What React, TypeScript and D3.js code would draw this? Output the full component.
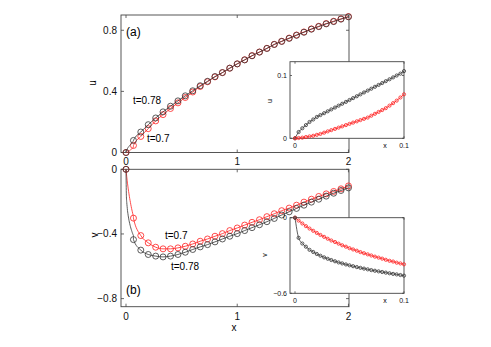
import React from 'react';
import * as d3 from 'd3';

const mainX = [0, 0.067, 0.133, 0.2, 0.267, 0.333, 0.4, 0.467, 0.533, 0.6, 0.667, 0.733, 0.8, 0.867, 0.933, 1,
  1.067, 1.133, 1.2, 1.267, 1.333, 1.4, 1.467, 1.533, 1.6, 1.667, 1.733, 1.8, 1.867, 1.933, 2];
const uRed = [0, 0.046, 0.105, 0.156, 0.207, 0.248, 0.288, 0.325, 0.36, 0.396, 0.432, 0.463, 0.495, 0.523, 0.552, 0.58,
  0.607, 0.634, 0.658, 0.682, 0.708, 0.728, 0.749, 0.769, 0.789, 0.809, 0.826, 0.844, 0.859, 0.875, 0.89];
const uBlack = [0, 0.079, 0.134, 0.182, 0.226, 0.266, 0.303, 0.338, 0.371, 0.404, 0.437, 0.466, 0.497, 0.523, 0.552, 0.58,
  0.606, 0.633, 0.657, 0.681, 0.707, 0.727, 0.747, 0.767, 0.787, 0.807, 0.824, 0.842, 0.857, 0.873, 0.888];
const vRed = [0, -0.302, -0.41, -0.455, -0.482, -0.492, -0.492, -0.486, -0.476, -0.462, -0.445, -0.431, -0.414, -0.398, -0.379, -0.363,
  -0.345, -0.328, -0.312, -0.293, -0.275, -0.256, -0.24, -0.222, -0.203, -0.185, -0.168, -0.152, -0.137, -0.121, -0.103];
const vBlack = [0, -0.435, -0.5, -0.527, -0.537, -0.542, -0.537, -0.527, -0.513, -0.496, -0.48, -0.466, -0.449, -0.431, -0.414, -0.398,
  -0.379, -0.361, -0.343, -0.324, -0.304, -0.283, -0.263, -0.242, -0.222, -0.203, -0.185, -0.166, -0.148, -0.131, -0.115];

// zoomed data near x = 0 (insets)
const insetX = [0, 0.0033, 0.0067, 0.01, 0.0133, 0.0167, 0.02, 0.0233, 0.0267, 0.03, 0.0333, 0.0367, 0.04, 0.0433, 0.0467, 0.05,
  0.0533, 0.0567, 0.06, 0.0633, 0.0667, 0.07, 0.0733, 0.0767, 0.08, 0.0833, 0.0867, 0.09, 0.0933, 0.0967, 0.1];
const uBlackIn = [0, 0.01, 0.016, 0.021, 0.026, 0.03, 0.034, 0.037, 0.04, 0.043, 0.046, 0.049, 0.052, 0.055, 0.058, 0.061,
  0.064, 0.067, 0.07, 0.073, 0.076, 0.079, 0.082, 0.085, 0.088, 0.091, 0.094, 0.097, 0.1, 0.103, 0.107];
const uRedIn = [0, 0.0005, 0.001, 0.002, 0.003, 0.004, 0.0055, 0.007, 0.009, 0.011, 0.013, 0.015, 0.017, 0.019, 0.021, 0.023,
  0.025, 0.027, 0.029, 0.031, 0.033, 0.036, 0.039, 0.042, 0.045, 0.048, 0.052, 0.056, 0.06, 0.065, 0.07];
const vBlackIn = [0, -0.16, -0.205, -0.23, -0.255, -0.272, -0.288, -0.302, -0.315, -0.326, -0.336, -0.346, -0.355, -0.363, -0.371, -0.378,
  -0.385, -0.392, -0.398, -0.404, -0.41, -0.416, -0.421, -0.426, -0.431, -0.436, -0.441, -0.446, -0.45, -0.455, -0.46];
const vRedIn = [0, -0.023, -0.046, -0.067, -0.086, -0.104, -0.121, -0.137, -0.152, -0.167, -0.181, -0.193, -0.206, -0.219, -0.23, -0.242,
  -0.252, -0.262, -0.273, -0.282, -0.291, -0.3, -0.309, -0.317, -0.325, -0.334, -0.342, -0.348, -0.357, -0.363, -0.37];

const mainXTicks = [0, 1, 2];
const uTicks = [0, 0.4, 0.8];
const vTicks = [0, -0.4, -0.8];
const insetXTicks = [0, 0.1];
const uInTicks = [0, 0.1];
const vInTicks = [0, -0.6];

const FONT = 'Liberation Sans, Arial, Helvetica, sans-serif';
const AX = '#444';
const RED = '#ff2020';
const BLK = '#333';

type Pt = [number, number];
const fmt = (v: number) => (v < 0 ? '\u2212' + String(-v) : String(v));

const Series = ({ xs, ys, lineX, lineY, x, y, color, r }: any) => {
  const pts: Pt[] = xs.map((v: number, i: number) => [v, ys[i]]);
  let linePts: Pt[] = pts;
  if (lineX) {
    const extra: Pt[] = lineX.map((v: number, i: number) => [v, lineY[i]] as Pt).filter((p: Pt) => p[0] > 0 && p[0] < xs[1]);
    linePts = [pts[0], ...extra, ...pts.slice(1)];
  }
  const line = d3.line<Pt>().x((d) => x(d[0])).y((d) => y(d[1])).curve(d3.curveMonotoneX);
  return (
    <g>
      <path d={line(linePts) || ''} fill="none" stroke={color} strokeWidth={0.8} />
      {pts.map((p, i) => (
        <circle key={i} cx={x(p[0])} cy={y(p[1])} r={r} fill="none" stroke={color} strokeWidth={0.8} />
      ))}
    </g>
  );
};

const Frame = ({ x, y, xt, yt, tick, fs, xLabY, yLabX, fill }: any) => {
  const [x0, x1] = x.range();
  const [y0, y1] = y.range();
  const top = Math.min(y0, y1);
  const bot = Math.max(y0, y1);
  return (
    <g>
      <rect x={x0} y={top} width={x1 - x0} height={bot - top} fill={fill || 'none'} stroke={AX} strokeWidth={0.9} />
      {xt.map((t: number) => (
        <g key={'x' + t}>
          <line x1={x(t)} x2={x(t)} y1={bot} y2={bot - tick} stroke={AX} strokeWidth={0.8} />
          <line x1={x(t)} x2={x(t)} y1={top} y2={top + tick} stroke={AX} strokeWidth={0.8} />
          <text x={x(t)} y={xLabY} fontSize={fs} textAnchor="middle" fill="#111">{fmt(t)}</text>
        </g>
      ))}
      {yt.map((t: number) => (
        <g key={'y' + t}>
          <line x1={x0} x2={x0 + tick} y1={y(t)} y2={y(t)} stroke={AX} strokeWidth={0.8} />
          <line x1={x1} x2={x1 - tick} y1={y(t)} y2={y(t)} stroke={AX} strokeWidth={0.8} />
          <text x={yLabX} y={y(t)} dy="0.35em" fontSize={fs} textAnchor="end" fill="#111">{fmt(t)}</text>
        </g>
      ))}
    </g>
  );
};

export default function App() {
  const x = d3.scaleLinear().domain([-0.045, 2.005]).range([121, 349]);
  const yu = d3.scaleLinear().domain([0, 0.9]).range([152.5, 15]);
  const yv = d3.scaleLinear().domain([-0.85, 0]).range([306.7, 169.3]);
  const xi = d3.scaleLinear().domain([-0.0046, 0.1]).range([290, 404]);
  const yui = d3.scaleLinear().domain([0, 0.122]).range([138.3, 61.7]);
  const yvi = d3.scaleLinear().domain([-0.6, 0]).range([293.3, 217.7]);

  return (
    <svg width={491} height={347} style={{ position: 'absolute', left: 0, top: 0, background: '#fff' }} fontFamily={FONT}>
      {/* (a) */}
      <Frame x={x} y={yu} xt={mainXTicks} yt={uTicks} tick={3} fs={10} xLabY={165} yLabX={117} />
      <Series xs={mainX} ys={uRed} lineX={insetX} lineY={uRedIn} x={x} y={yu} color={RED} r={3} />
      <Series xs={mainX} ys={uBlack} lineX={insetX} lineY={uBlackIn} x={x} y={yu} color={BLK} r={3} />
      <text x={126} y={36} fontSize={12}>(a)</text>
      <text x={133} y={104} fontSize={10}>t=0.78</text>
      <text x={147} y={141.5} fontSize={10}>t=0.7</text>
      <text transform="translate(96,83) rotate(-90)" fontSize={10} textAnchor="middle">u</text>

      <Frame x={xi} y={yui} xt={insetXTicks} yt={uInTicks} tick={2} fs={7} xLabY={148} yLabX={287} fill="#fff" />
      <Series xs={insetX} ys={uBlackIn} x={xi} y={yui} color={BLK} r={1.6} />
      <Series xs={insetX} ys={uRedIn} x={xi} y={yui} color={RED} r={1.6} />
      <text x={385} y={148} fontSize={7} textAnchor="middle">x</text>
      <text transform="translate(272,101) rotate(-90)" fontSize={7} textAnchor="middle">u</text>

      {/* (b) */}
      <Frame x={x} y={yv} xt={mainXTicks} yt={vTicks} tick={3} fs={10} xLabY={320} yLabX={117} />
      <Series xs={mainX} ys={vRed} lineX={insetX} lineY={vRedIn} x={x} y={yv} color={RED} r={3} />
      <Series xs={mainX} ys={vBlack} lineX={insetX} lineY={vBlackIn} x={x} y={yv} color={BLK} r={3} />
      <text x={126} y={294} fontSize={12}>(b)</text>
      <text x={165} y={238.5} fontSize={10}>t=0.7</text>
      <text x={171} y={270} fontSize={10}>t=0.78</text>
      <text transform="translate(98,235) rotate(-90)" fontSize={10} textAnchor="middle">v</text>
      <text x={234} y={331} fontSize={10} textAnchor="middle">x</text>

      <Frame x={xi} y={yvi} xt={insetXTicks} yt={vInTicks} tick={2} fs={7} xLabY={303} yLabX={287} fill="#fff" />
      <Series xs={insetX} ys={vRedIn} x={xi} y={yvi} color={RED} r={1.6} />
      <Series xs={insetX} ys={vBlackIn} x={xi} y={yvi} color={BLK} r={1.6} />
      <text x={385} y={303} fontSize={7} textAnchor="middle">x</text>
      <text transform="translate(267,255) rotate(-90)" fontSize={7} textAnchor="middle">v</text>
    </svg>
  );
}
